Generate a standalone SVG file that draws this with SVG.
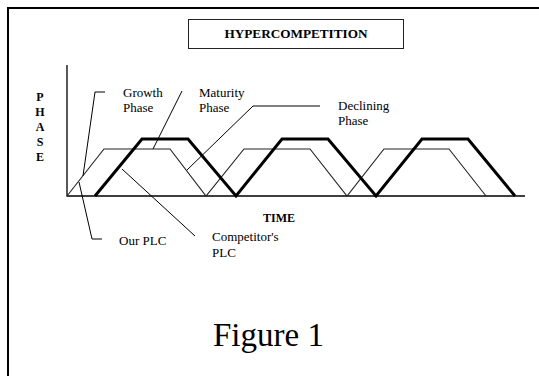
<svg xmlns="http://www.w3.org/2000/svg" width="539" height="376" viewBox="0 0 539 376">
<style>
.t{font-family:"Liberation Serif","Times New Roman",serif;font-size:13px;fill:#000}
.b{font-family:"Liberation Serif","Times New Roman",serif;font-size:12px;font-weight:bold;fill:#000}
.ld{fill:none;stroke:#000;stroke-width:1}
.ax{fill:none;stroke:#000;stroke-width:1.3}
.thin{fill:none;stroke:#222;stroke-width:1.1;stroke-linejoin:miter}
.thick{fill:none;stroke:#000;stroke-width:3;stroke-linejoin:miter}
</style>
<rect x="0" y="0" width="539" height="376" fill="#fff"/>
<g id="frame">
<path d="M8,376 V8 H539" fill="none" stroke="#000" stroke-width="2"/>
</g>
<g id="title">
<rect x="188.5" y="19.5" width="215" height="29" fill="#fff" stroke="#222" stroke-width="1"/>
<text class="b" x="296" y="38" text-anchor="middle" textLength="143" lengthAdjust="spacingAndGlyphs">HYPERCOMPETITION</text>
</g>
<g id="axes">
<path class="ax" d="M67,65 V196 H525"/>
<text class="b" x="40" y="101" text-anchor="middle">P</text>
<text class="b" x="40" y="116" text-anchor="middle">H</text>
<text class="b" x="40" y="131" text-anchor="middle">A</text>
<text class="b" x="40" y="146" text-anchor="middle">S</text>
<text class="b" x="40" y="161" text-anchor="middle">E</text>
<text class="b" x="263" y="222">TIME</text>
</g>
<g id="our-plc-curve">
<path class="thin" d="M67,196 L104,149 H170 L206,196 L244,149 H310 L347,196 L384,149 H449 L486,196"/>
</g>
<g id="competitor-plc-curve">
<path class="thick" d="M95,196 L142,139 H188 L236,196 L282,139 H328 L376,196 L422,139 H468 L515,196"/>
</g>
<g id="connectors">
<path class="ld" d="M105,92 H95 L83,176"/>
<path class="ld" d="M182,91 L153,149"/>
<path class="ld" d="M320,106 H253 L187,170"/>
<path class="ld" d="M102,239 H92 L79,182"/>
<path class="ld" d="M195,236 L122,169"/>
</g>
<g id="growth-label">
<text class="t" x="123" y="97">Growth</text>
<text class="t" x="123" y="112">Phase</text>
</g>
<g id="maturity-label">
<text class="t" x="199" y="97">Maturity</text>
<text class="t" x="199" y="112">Phase</text>
</g>
<g id="declining-label">
<text class="t" x="338" y="110">Declining</text>
<text class="t" x="338" y="125">Phase</text>
</g>
<g id="our-plc-label">
<text class="t" x="119" y="245">Our PLC</text>
</g>
<g id="competitor-label">
<text class="t" x="212" y="241">Competitor's</text>
<text class="t" x="212" y="257">PLC</text>
</g>
<g id="figure-caption">
<text class="t" x="213" y="346" style="font-size:33px">Figure 1</text>
</g>
</svg>
